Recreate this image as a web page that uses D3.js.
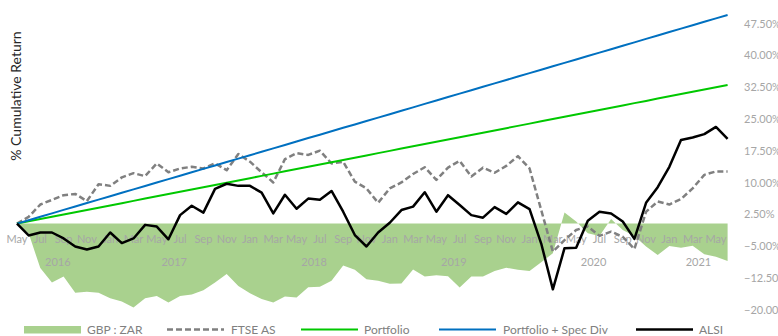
<!DOCTYPE html>
<html>
<head>
<meta charset="utf-8">
<script src="https://cdn.jsdelivr.net/npm/d3@7"></script>
<style>
    body { margin: 0; background: #fff; }
    svg { font-family: Lato, "Liberation Sans", sans-serif; }
</style>
</head>
<body>
<svg id="canvas" width="778" height="336"></svg>
<script>
/** Months: May 2016 .. Jun 2021 */
const months = d3.timeMonth.range(new Date(2016, 4, 1), new Date(2021, 6, 1));

const years = ['2016', '2017', '2018', '2019', '2020', '2021'];

const yTicks = [-20, -12.5, -5, 2.5, 10, 17.5, 25, 32.5, 40, 47.5];

/** GBP : ZAR (area) */
const gbpZar = [0, -2.3, -10.5, -13.9, -12.5, -16.3, -16.1, -16.3, -17.6, -18.4,
    -19.8, -17.6, -17.1, -18.6, -17.1, -16.7, -15.7, -13.9, -11.9, -14.7,
    -16.4, -17.8, -18.6, -17.2, -17.4, -15.0, -14.9, -13.5, -9.9, -10.9,
    -13.1, -13.5, -14.2, -14.1, -10.8, -12.5, -12.2, -12.4, -15.1, -12.5,
    -12.5, -11.2, -10.4, -10.9, -11.2, -9.1, -7.0, 2.6, 0.5, -2.3,
    -2.9, 1.1, -1.5, -2.9, -5.4, -7.4, -5.3, -5.7, -5.2, -7.2,
    -7.8, -8.8];

/** FTSE AS */
const ftseAs = [0, 1.6, 4.5, 5.6, 6.7, 7.0, 5.3, 9.3, 8.9, 10.9,
    11.9, 11.2, 14.2, 12.1, 13.0, 13.4, 13.0, 14.2, 12.6, 16.4,
    14.6, 12.1, 9.7, 15.2, 16.6, 16.2, 17.2, 14.2, 14.6, 9.9,
    8.3, 4.9, 8.3, 9.7, 11.7, 13.3, 10.3, 13.2, 14.8, 11.1,
    13.2, 12.0, 13.6, 15.9, 13.0, 3.2, -6.6, -3.9, -1.5, -0.7,
    -2.9, -1.9, -3.1, -6.0, 2.8, 5.2, 4.5, 5.8, 8.3, 11.5,
    12.3, 12.3];

/** Portfolio */
const portfolio = [0, 0.54, 1.07, 1.61, 2.14, 2.68, 3.22, 3.75, 4.29, 4.82,
    5.36, 5.90, 6.43, 6.97, 7.50, 8.04, 8.58, 9.11, 9.65, 10.18,
    10.72, 11.26, 11.79, 12.33, 12.86, 13.40, 13.94, 14.47, 15.01, 15.54,
    16.08, 16.62, 17.15, 17.69, 18.22, 18.76, 19.30, 19.83, 20.37, 20.90,
    21.44, 21.98, 22.51, 23.05, 23.58, 24.12, 24.66, 25.19, 25.73, 26.26,
    26.80, 27.34, 27.87, 28.41, 28.94, 29.48, 30.02, 30.55, 31.09, 31.62,
    32.16, 32.70];

/** Portfolio + Spec Div */
const portfolioSpec = [0, 0.81, 1.61, 2.42, 3.23, 4.03, 4.84, 5.65, 6.45, 7.26,
    8.07, 8.87, 9.68, 10.49, 11.29, 12.10, 12.91, 13.71, 14.52, 15.33,
    16.13, 16.94, 17.75, 18.55, 19.36, 20.17, 20.97, 21.78, 22.59, 23.39,
    24.20, 25.00, 25.81, 26.62, 27.42, 28.23, 29.04, 29.84, 30.65, 31.46,
    32.26, 33.07, 33.88, 34.68, 35.49, 36.30, 37.10, 37.91, 38.72, 39.52,
    40.33, 41.14, 41.94, 42.75, 43.56, 44.36, 45.17, 45.98, 46.78, 47.59,
    48.40, 49.20];

/** ALSI */
const alsi = [0, -2.8, -2.1, -2.1, -3.5, -5.4, -6.1, -5.4, -2.1, -4.6,
    -3.5, -0.3, -0.7, -3.7, 2.0, 4.2, 2.6, 8.2, 9.4, 8.9,
    8.9, 7.3, 2.4, 6.8, 3.5, 5.9, 5.6, 7.7, 2.8, -2.7,
    -5.4, -2.1, 0.2, 3.2, 4.0, 7.4, 2.8, 6.7, 4.4, 2.0,
    1.4, 3.9, 2.3, 5.0, 3.4, -4.7, -15.5, -5.8, -5.7, 0.7,
    2.8, 2.4, 0.5, -3.6, 4.9, 8.6, 13.4, 19.7, 20.3, 21.1,
    22.8, 20.0];

const canvas = d3.select('#canvas');

/** Scales */
const x = d3.scalePoint()
    .domain(d3.range(months.length))
    .range([17, 727.6]);

const y = d3.scaleLinear()
    .domain([-20, 47.5])
    .range([308.4, 22.2]);

const labelColor = '#a6a6a6';

/** GBP : ZAR area */
canvas.append('path')
    .datum(gbpZar)
    .attr('fill', '#a9d18e')
    .attr('d', d3.area()
        .x((d, i) => x(i))
        .y0(y(0))
        .y1((d) => y(d)));

/** Month labels (every second month) */
const monthFmt = d3.timeFormat('%b');
canvas.append('g')
    .selectAll('text')
    .data(months.filter((m, i) => i % 2 === 0))
    .enter()
    .append('text')
    .attr('x', (m) => x(months.indexOf(m)))
    .attr('y', 239)
    .attr('dy', '0.35em')
    .attr('text-anchor', 'middle')
    .attr('fill', labelColor)
    .style('font-size', '11px')
    .text((m) => monthFmt(m));

/** Year labels, centred on their months */
canvas.append('g')
    .selectAll('text')
    .data(years)
    .enter()
    .append('text')
    .attr('x', (yr) => {
        let idx = months.map((m, i) => [m, i])
            .filter((p) => p[0].getFullYear() === +yr)
            .map((p) => p[1]);
        return (x(d3.min(idx)) + x(d3.max(idx))) / 2;
    })
    .attr('y', 262)
    .attr('dy', '0.35em')
    .attr('text-anchor', 'middle')
    .attr('fill', labelColor)
    .style('font-size', '11px')
    .text((yr) => yr);

/** Right axis labels */
canvas.append('g')
    .selectAll('text')
    .data(yTicks)
    .enter()
    .append('text')
    .attr('x', 744)
    .attr('y', (d) => y(d) + 1.5)
    .attr('dy', '0.35em')
    .attr('fill', labelColor)
    .style('font-size', '11px')
    .text((d) => d3.format('.2f')(d) + '%');

/** Axis title */
canvas.append('text')
    .attr('transform', 'translate(21,96) rotate(-90)')
    .attr('text-anchor', 'middle')
    .attr('fill', '#262626')
    .style('font-size', '14px')
    .text('% Cumulative Return');

/** Lines */
const line = d3.line()
    .x((d, i) => x(i))
    .y((d) => y(d));

const series = [
    { name: 'FTSE AS', values: ftseAs, color: '#808080', width: 2.5, dash: '6,3' },
    { name: 'Portfolio', values: portfolio, color: '#00c800', width: 2, dash: null },
    { name: 'Portfolio + Spec Div', values: portfolioSpec, color: '#0070c0', width: 2, dash: null },
    { name: 'ALSI', values: alsi, color: '#000000', width: 2.5, dash: null }
];

series.forEach((s) => {
    canvas.append('path')
        .datum(s.values)
        .attr('fill', 'none')
        .attr('stroke', s.color)
        .attr('stroke-width', s.width)
        .attr('stroke-dasharray', s.dash)
        .attr('stroke-linejoin', 'round')
        .attr('d', line);
});

/** Legend */
const legendY = 329.5;
const legend = canvas.append('g');

legend.append('rect')
    .attr('x', 24).attr('y', 326)
    .attr('width', 57).attr('height', 7.5)
    .attr('fill', '#a9d18e');
legend.append('text')
    .attr('x', 87).attr('y', legendY).attr('dy', '0.35em')
    .attr('fill', '#808080').style('font-size', '12px')
    .text('GBP : ZAR');

const legendPos = [[167, 231], [301, 364], [439, 503], [636, 699]];
series.forEach((s, i) => {
    let [lx, tx] = legendPos[i];
    legend.append('line')
        .attr('x1', lx).attr('x2', lx + 57)
        .attr('y1', legendY).attr('y2', legendY)
        .attr('stroke', s.color)
        .attr('stroke-width', s.width)
        .attr('stroke-dasharray', s.dash);
    legend.append('text')
        .attr('x', tx).attr('y', legendY).attr('dy', '0.35em')
        .attr('fill', '#808080').style('font-size', '12px')
        .text(s.name);
});
</script>
</body>
</html>
